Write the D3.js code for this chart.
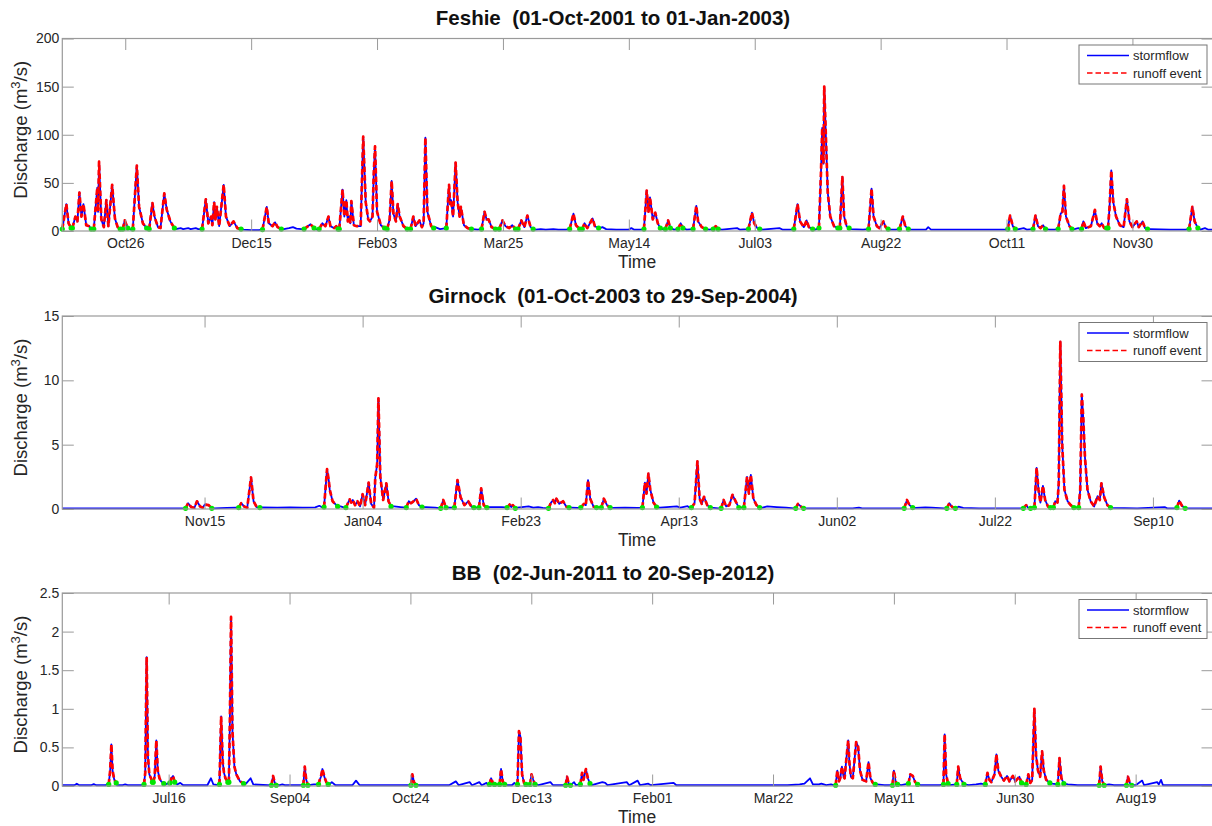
<!DOCTYPE html>
<html><head><meta charset="utf-8">
<script src="https://cdn.jsdelivr.net/npm/d3@7"></script>
<style>
body{margin:0;background:#fff}
svg{display:block}
text{font-family:"Liberation Sans",Arial,Helvetica,sans-serif}
</style>
</head><body>
<svg id="chart" width="1212" height="826"></svg>
<script>
// ---------------- DATA (day offsets from the panel start date, discharge m3/s) ----------------
const seriesNames = ["stormflow", "runoff event"];

// Feshie 01-Oct-2001 to 01-Jan-2003
const feshieXTicks = ["2001-10-26","2001-12-15","2002-02-03","2002-03-25","2002-05-14","2002-07-03","2002-08-22","2002-10-11","2002-11-30"];
const feshieYTicks = [0, 50, 100, 150, 200];
const feshieBase = [[0,1.5],[23.5,1.5],[27,1.5],[45,2],[47,3],[48,2],[50,3],[51,2],[53,3],[54,2],[72,1.5],[75,1],[78,1],[88,2],[90,3],[91.6,4],[93,2.5],[95,2],[100.5,2],[101.5,1.5],[128.5,2],[137.5,2],[148.1,4],[150,2],[163,2],[165,1.5],[172.5,1.5],[180.5,1.5],[188,1.5],[190,2],[192,1.5],[195,2],[197,1.5],[200,1.5],[213.5,3],[214.5,4],[216,2],[220,1.5],[225,1.5],[226,3],[227,1.5],[230,1.5],[238,2],[243,1.5],[248,1.5],[257,1.5],[262,1.5],[268,3],[269,1.5],[278,1.5],[284.8,3],[286,1.5],[290,1.5],[299,1.5],[313,2],[318,1.5],[329,1.5],[331,1.5],[337,1.5],[343,1.5],[343.9,4],[345,1.5],[360,1.5],[375,1.5],[379,1.5],[381.8,3],[383,1.5],[392,1.5],[394,1.5],[402,2],[403.5,3],[404.3,2],[432,2],[440,1.5],[446,1.5],[452,1.5],[453.8,3],[455,1.5],[457,1.5]];
const feshieEvents = [
 [[0,2],[0.8,15],[1.6,28],[2.5,8],[3.5,3]],
 [[4,3],[5.2,15],[6.0,10],[6.8,40],[7.6,15],[8.4,28],[9.5,6],[10.7,5],[11.5,2]],
 [[12.5,2],[13.9,45],[14.2,20],[14.6,72],[15.5,12],[16.5,4],[17.5,32],[18.3,5],[19.8,48],[20.9,13],[22,4],[23,2]],
 [[24,2],[24.8,11],[26,3]],
 [[28,2],[29.6,68],[30.5,25],[32,8],[33.5,3]],
 [[34.5,2],[35.8,29],[36.6,15],[38,4],[39,3],[40.5,39],[41.5,22],[42.9,10],[44.5,3]],
 [[55.5,2],[57,33],[58,8],[59.1,15],[59.6,6],[60.3,30],[60.8,12],[61.4,25],[62.3,5],[64.1,48],[65,15],[66.5,5],[68,10],[69.5,3],[71,2]],
 [[79.5,1.5],[81.2,25],[82,8],[83.5,5],[84.5,9],[85.5,4],[87,2]],
 [[96,2],[98.6,7],[100,3]],
 [[102,2],[103.3,8],[104.5,5],[105.7,15],[106.5,5],[108,3],[108.8,5],[109.5,2]],
 [[110,2],[111.3,43],[112,15],[112.8,32],[113.4,10],[113.9,15],[114.4,8],[114.8,31],[115.8,6],[117,5],[118.5,5],[119.5,98],[120.5,30],[121.5,12],[122.2,10],[123.2,15],[123.7,60],[124.2,88],[125,20],[126.5,6],[128,3]],
 [[129,2],[130,12],[130.8,52],[131.5,18],[132.5,10],[133.2,28],[134,15],[135.5,5],[137,2]],
 [[138.3,2],[139.4,15],[140.3,5],[141.8,11],[142.8,4],[143.5,8],[144.2,97],[145,20],[146.5,5],[147.5,3]],
 [[152.5,3],[153.6,48],[154,28],[154.4,32],[155.2,15],[156.2,71],[157,30],[157.8,15],[158.3,25],[159.5,6],[161,3],[162.5,2]],
 [[166.5,2],[167.7,20],[168.5,12],[169.3,12],[170.5,4],[172,2]],
 [[173.5,2],[174.8,11],[176,5],[177.5,3],[178.7,6],[180,2]],
 [[181,2],[182.3,11],[183.5,4],[184.7,16],[186,4],[187,2]],
 [[201.5,2],[203,18],[204,6],[205.5,2]],
 [[206.5,2],[207.4,8],[208.5,3],[210.6,13],[211.5,5],[213,3]],
 [[231,2],[232.1,42],[232.8,20],[233.4,35],[234.5,12],[235.5,19],[236.5,8],[237.5,3]],
 [[239.5,2],[240.6,11],[241.5,3]],
 [[244.5,2],[245.6,8],[246.5,3]],
 [[250.5,2],[251.8,26],[252.5,10],[254,4],[255.5,2]],
 [[258.5,2],[259.5,5],[260.5,2]],
 [[272.5,2],[273.9,19],[274.8,8],[276,3],[277,2]],
 [[290.5,2],[292,28],[293,10],[294.5,4],[295.6,11],[296.5,4],[298,2]],
 [[300.5,3],[301.3,60],[301.8,107],[302.3,70],[302.6,150],[303.3,95],[304,40],[305,15],[306.5,5],[308,3]],
 [[308.8,3],[309.8,56],[310.5,15],[311.5,5],[312.5,3]],
 [[320.2,2],[321.4,44],[322.2,15],[323.5,5],[324.5,3],[326.1,10],[327,4],[328,2]],
 [[332.5,2],[333.8,15],[334.8,5],[336,2]],
 [[375.5,2],[376.4,16],[377.5,5],[378.5,2]],
 [[385.5,2],[386.5,16],[387.5,5],[388.5,3],[389.5,6],[390.5,2]],
 [[395.5,2],[396.5,18],[397.2,20],[397.8,47],[398.6,15],[400,5],[401,2]],
 [[404.8,2],[405.5,10],[406.5,3],[408.5,5],[410.1,22],[411,8],[412,5],[412.8,8],[413.8,3],[414.8,3]],
 [[415.3,3],[415.9,24],[416.6,63],[417.4,30],[418.5,15],[420,6],[421.5,4],[422.8,33],[423.8,10],[425,4],[426.7,10],[427.5,4],[429,10],[430,3],[431,2]],
 [[447.5,2],[448.8,25],[449.7,10],[451,3]]
];

// Girnock 01-Oct-2003 to 29-Sep-2004
const girnockXTicks = ["2003-11-15","2004-01-04","2004-02-23","2004-04-13","2004-06-02","2004-07-22","2004-09-10"];
const girnockYTicks = [0, 5, 10, 15];
const girnockBase = [[0,0.05],[38.5,0.05],[48,0.05],[52,0.08],[55,0.1],[63,0.12],[68,0.1],[72,0.12],[76,0.1],[80,0.12],[81.3,0.25],[82.3,0.12],[88,0.2],[89,0.12],[105,0.2],[107,0.15],[115,0.15],[118,0.1],[122,0.1],[123,0.1],[135,0.15],[139,0.15],[140.2,0.12],[144,0.1],[147.5,0.2],[149,0.1],[150.5,0.15],[152,0.08],[161,0.1],[163,0.08],[174,0.08],[178,0.1],[182,0.08],[189,0.1],[194.4,0.2],[195.5,0.1],[197.8,0.22],[198.5,0.1],[206,0.08],[207.5,0.05],[221.5,0.1],[223,0.2],[226,0.15],[229,0.1],[231.5,0.05],[236,0.05],[245,0.05],[250,0.05],[252,0.1],[253,0.05],[265.5,0.05],[270,0.08],[273,0.12],[275,0.1],[279,0.05],[283.5,0.18],[285,0.08],[290,0.05],[303,0.05],[307,0.08],[313,0.1],[320.8,0.1],[332,0.08],[340,0.05],[348.7,0.15],[349.5,0.05],[352.2,0.05],[356,0.05],[364,0.05]];
const girnockEvents = [
 [[39,0.05],[39.8,0.45],[40.8,0.15],[41.8,0.1],[42.6,0.6],[43.6,0.2],[44.4,0.1],[45.1,0.35],[46.3,0.3],[47.3,0.05]],
 [[55.8,0.1],[56.6,0.45],[57.5,0.2],[58.5,0.1],[59.7,2.45],[60.5,0.6],[61.5,0.15],[62.5,0.1]],
 [[82.8,0.15],[83.75,3.1],[84.3,2.2],[84.6,1.5],[85.5,0.6],[87.1,0.2]],
 [[89.7,0.1],[90.9,0.75],[91.4,0.5],[91.9,0.7],[92.6,0.3],[93.4,0.6],[94.2,0.2],[95,1.15],[95.8,0.3],[96.9,2.05],[97.7,0.4],[98.6,0.1],[99,2.4],[99.6,3.5],[100,8.6],[100.6,2.5],[101.5,0.7],[102.5,2.0],[103.2,0.6],[104,0.2]],
 [[108.8,0.1],[109.6,0.6],[110.3,0.45],[110.9,0.55],[111.9,0.8],[112.8,0.3],[113.8,0.15]],
 [[119.7,0.05],[120.5,0.7],[121.4,0.1]],
 [[124,0.1],[125,2.25],[126,0.9],[127.2,0.3],[128.4,0.6],[129.4,0.2],[130.2,0.1]],
 [[131.8,0.1],[132.5,1.6],[133.3,0.3],[134.3,0.1]],
 [[140.7,0.1],[141.5,0.35],[142,0.15],[142.5,0.3],[143.3,0.05]],
 [[153.8,0.05],[154.6,0.5],[155.3,0.7],[155.8,0.45],[156.3,0.8],[157.2,0.4],[158.4,0.6],[159.4,0.2],[160.3,0.1]],
 [[164,0.1],[165,0.4],[165.6,0.3],[166.3,2.25],[167,0.8],[168,0.2],[169,0.1]],
 [[170.5,0.1],[171.3,0.8],[172.3,0.3],[173.3,0.1]],
 [[183.5,0.1],[184.3,2.05],[184.8,1.2],[185.4,2.75],[186,1.5],[187,0.5],[188,0.15]],
 [[199,0.1],[200,0.45],[200.9,3.7],[201.6,0.8],[202.3,0.4],[203,0.95],[204,0.3],[205,0.1]],
 [[208.4,0.05],[209.2,0.7],[210,0.2],[211,0.3],[212,1.1],[213,0.6],[214,0.1]],
 [[215.6,0.1],[216.6,2.5],[217.2,1.2],[217.8,2.65],[218.6,0.8],[219.6,0.3],[220.6,0.1]],
 [[232,0.05],[232.7,0.4],[233.6,0.2],[234.5,0.05]],
 [[266.3,0.05],[267.2,0.7],[268,0.3],[269,0.1]],
 [[279.8,0.05],[280.6,0.45],[281.5,0.15],[282.5,0.05]],
 [[304,0.05],[304.9,0.3],[305.5,0.1],[306.3,0.05]],
 [[307.5,0.1],[308.2,3.2],[308.8,1.5],[309.4,0.5],[310.2,1.8],[310.9,0.7],[311.8,0.2],[312.6,0.1]],
 [[313.5,0.1],[314.1,0.6],[314.8,0.5],[315.2,2],[315.7,13],[316.3,5],[317,1.5],[318,0.6],[319,0.3],[320,0.1]],
 [[321.5,0.1],[322,1.5],[322.5,8.9],[323,6.9],[323.5,4],[324.3,1.5],[325.3,0.6],[326.4,0.2],[327.5,1.0],[328.2,0.7],[328.7,2.0],[329.6,0.9],[330.6,0.3],[331.6,0.1]],
 [[352.6,0.1],[353.3,0.65],[354.2,0.25],[355.2,0.05]]
];

// BB 02-Jun-2011 to 20-Sep-2012
const bbXTicks = ["2011-07-16","2011-09-04","2011-10-24","2011-12-13","2012-02-01","2012-03-22","2012-05-11","2012-06-30","2012-08-19"];
const bbYTicks = [0, 0.5, 1, 1.5, 2, 2.5];
const bbBase = [[0,0.01],[5,0.01],[6,0.03],[7,0.01],[12,0.01],[13,0.025],[14,0.01],[18,0.01],[18.7,0.03],[22.6,0.01],[25,0.01],[26,0.02],[27,0.01],[33,0.01],[42.5,0.02],[47.5,0.02],[48.8,0.04],[50,0.01],[60,0.01],[61.5,0.1],[62.5,0.02],[64.5,0.01],[76,0.03],[77.9,0.1],[79,0.02],[85,0.01],[90,0.01],[91,0.02],[92,0.01],[98,0.01],[102,0.01],[104,0.02],[105,0.02],[110.5,0.02],[111.5,0.05],[113,0.01],[120,0.01],[121.5,0.07],[123,0.01],[143,0.01],[148,0.01],[155,0.01],[160,0.01],[162.8,0.06],[164,0.01],[168.5,0.05],[169.5,0.01],[172.5,0.05],[173.5,0.01],[175.5,0.04],[176.2,0.01],[184,0.01],[186,0.01],[187,0.04],[188,0.01],[197,0.01],[201.9,0.05],[203,0.01],[207,0.01],[211.7,0.05],[212.5,0.01],[219,0.01],[223.4,0.05],[224.6,0.04],[225.5,0.01],[233.5,0.05],[234.5,0.01],[238,0.07],[239,0.01],[242.4,0.03],[243.5,0.01],[252.9,0.04],[254,0.01],[260,0.01],[280,0.01],[300,0.01],[305,0.02],[307,0.03],[309.3,0.1],[310.5,0.02],[313,0.02],[314,0.03],[316,0.01],[318,0.02],[319,0.01],[337,0.02],[340,0.01],[347,0.01],[355,0.01],[358,0.01],[363,0.01],[367,0.01],[375,0.01],[378,0.02],[380,0.03],[397.5,0.03],[407.7,0.05],[409.5,0.03],[416,0.02],[420,0.01],[427,0.01],[433,0.02],[435,0.01],[444,0.01],[446.7,0.07],[447.5,0.01],[452.9,0.05],[453.6,0.02],[454.5,0.08],[455.3,0.01],[460,0.01],[470,0.01],[476,0.01]];
const bbEvents = [
 [[19.2,0.02],[19.8,0.2],[20.3,0.54],[20.8,0.2],[21.5,0.08],[22.3,0.04]],
 [[33.8,0.02],[34.3,0.17],[34.9,1.67],[35.4,0.4],[36,0.15],[36.7,0.1],[37.3,0.05]],
 [[37.6,0.05],[38.2,0.12],[38.9,0.59],[39.5,0.2],[40.2,0.1],[40.9,0.06],[42,0.03]],
 [[44.5,0.04],[45.1,0.1],[45.8,0.13],[46.5,0.05]],
 [[65,0.02],[65.7,0.9],[66.4,0.3],[66.9,0.17],[67.5,0.1],[68.5,0.05]],
 [[68.9,0.05],[69.3,0.8],[69.8,2.19],[70.4,0.7],[71.2,0.25],[72,0.15],[73.5,0.06],[75,0.03]],
 [[86.5,0.01],[87.2,0.13],[87.8,0.05],[88.5,0.01]],
 [[99.7,0.01],[100.3,0.25],[100.9,0.08],[101.6,0.01]],
 [[106,0.02],[106.5,0.08],[107,0.12],[107.6,0.22],[108.4,0.12],[109.2,0.05],[110,0.02]],
 [[144.2,0.01],[144.8,0.15],[145.5,0.05],[146.3,0.01]],
 [[176.7,0.02],[177.4,0.1],[178.1,0.04],[178.8,0.02]],
 [[180.9,0.02],[181.5,0.22],[182.2,0.06],[183,0.02]],
 [[188.3,0.02],[188.9,0.71],[189.5,0.64],[190.2,0.15],[191,0.04],[191.8,0.02]],
 [[193.5,0.02],[194.1,0.15],[194.8,0.08],[195.6,0.02]],
 [[208.2,0.01],[208.8,0.12],[209.5,0.03],[210.2,0.01]],
 [[214.3,0.02],[215,0.17],[215.6,0.08],[216.6,0.22],[217.4,0.1],[218.3,0.03]],
 [[319.9,0.01],[320.6,0.2],[321.3,0.06],[321.8,0.1],[322.5,0.25],[323.2,0.12],[323.6,0.1],[324.3,0.34],[325.1,0.59],[325.6,0.3],[326.2,0.12],[327,0.1],[327.6,0.3],[328.4,0.57],[329.2,0.51],[330,0.2],[331,0.08],[332.5,0.06],[333.5,0.31],[334.3,0.1],[335.3,0.04],[336.3,0.02]],
 [[343.4,0.01],[344,0.2],[344.7,0.06],[345.5,0.02]],
 [[350,0.03],[350.8,0.15],[351.8,0.13],[352.8,0.05],[353.8,0.02]],
 [[364.5,0.02],[365,0.67],[365.6,0.15],[366.4,0.03]],
 [[370,0.02],[370.6,0.25],[371.4,0.1],[372.2,0.06],[373,0.02]],
 [[381.8,0.02],[382.7,0.17],[383.5,0.08],[384.3,0.05],[385.6,0.15],[386.4,0.41],[387.2,0.2],[388.4,0.12],[389.5,0.07],[390.8,0.13],[391.8,0.06],[393.2,0.13],[394.2,0.06],[395.9,0.12],[396.8,0.04]],
 [[398.7,0.02],[399.6,0.15],[400.4,0.04],[401.2,0.08],[402.1,1.0],[402.8,0.4],[403.6,0.2],[404.5,0.12],[405.3,0.45],[406,0.2],[407,0.08],[408.5,0.04]],
 [[411.8,0.02],[412.5,0.36],[413.3,0.1],[414.3,0.03]],
 [[428.9,0.01],[429.5,0.25],[430.2,0.06],[431,0.01]],
 [[440.2,0.01],[440.8,0.12],[441.6,0.04],[442.4,0.01]]
];

// ---------------- PANELS ----------------
const panels = [
  {title:"Feshie  (01-Oct-2001 to 01-Jan-2003)", start:"2001-10-01", end:"2003-01-01", yMax:200, top:38.5, bottom:231,
   xTicks:feshieXTicks, yTicks:feshieYTicks, base:feshieBase, events:feshieEvents},
  {title:"Girnock  (01-Oct-2003 to 29-Sep-2004)", start:"2003-10-01", end:"2004-09-29", yMax:15, top:316, bottom:509,
   xTicks:girnockXTicks, yTicks:girnockYTicks, base:girnockBase, events:girnockEvents},
  {title:"BB  (02-Jun-2011 to 20-Sep-2012)", start:"2011-06-02", end:"2012-09-20", yMax:2.5, top:593, bottom:786,
   xTicks:bbXTicks, yTicks:bbYTicks, base:bbBase, events:bbEvents}
];

const L = 62.3, R = 1213;
const tickLen = 11.5;
const axisColor = "#9a9a9a";
const textColor = "#262626";
const parse = d3.utcParse("%Y-%m-%d");
const fmt = d3.utcFormat("%b%d");
const svg = d3.select("#chart");

panels.forEach(p => {
  const t0 = parse(p.start), t1 = parse(p.end);
  const toDate = d => new Date(t0.getTime() + d * 864e5);
  const x = d3.scaleUtc().domain([t0, t1]).range([L, R]);
  const y = d3.scaleLinear().domain([0, p.yMax]).range([p.bottom, p.top]);

  // stormflow = baseline knots outside events + event knots
  const inEvent = d => p.events.some(ev => d > ev[0][0] - 0.05 && d < ev[ev.length-1][0] + 0.05);
  const flow = p.base.filter(b => !inEvent(b[0])).concat(...p.events).sort((a, b) => a[0] - b[0]);

  const g = svg.append("g");

  g.append("rect").attr("x", L).attr("y", p.top).attr("width", R - L).attr("height", p.bottom - p.top).attr("fill", "#fff");

  const line = d3.line().x(d => x(toDate(d[0]))).y(d => y(d[1]));

  g.append("path").datum(flow).attr("d", line)
    .attr("fill", "none").attr("stroke", "#0000ff").attr("stroke-width", 1.8).attr("stroke-linejoin", "round");

  g.selectAll(".ev").data(p.events).join("path").attr("class", "ev").attr("d", line)
    .attr("fill", "none").attr("stroke", "#ff0000").attr("stroke-width", 2.7)
    .attr("stroke-dasharray", "5.5,3").attr("stroke-linejoin", "round");

  const marks = [];
  p.events.forEach(ev => { marks.push(ev[0]); marks.push(ev[ev.length-1]); });
  g.selectAll(".mk").data(marks).join("circle").attr("class", "mk")
    .attr("cx", d => x(toDate(d[0]))).attr("cy", d => y(d[1])).attr("r", 2.6).attr("fill", "#00e600");

  // axes
  const xt = p.xTicks.map(parse);
  const ax = g.append("g").attr("transform", `translate(0,${p.bottom})`)
    .call(d3.axisBottom(x).tickValues(xt).tickFormat(fmt).tickSize(-tickLen).tickPadding(7));
  const axT = g.append("g").attr("transform", `translate(0,${p.top})`)
    .call(d3.axisTop(x).tickValues(xt).tickFormat("").tickSize(-tickLen));
  const ay = g.append("g").attr("transform", `translate(${L},0)`)
    .call(d3.axisLeft(y).tickValues(p.yTicks).tickFormat(d => String(d)).tickSize(-tickLen).tickPadding(3));
  const ayR = g.append("g").attr("transform", `translate(${R},0)`)
    .call(d3.axisRight(y).tickValues(p.yTicks).tickFormat("").tickSize(-tickLen));
  [ax, axT, ay, ayR].forEach(a => {
    a.select(".domain").remove();
    a.selectAll(".tick line").attr("stroke", axisColor).attr("stroke-width", 1);
    a.selectAll(".tick text").attr("fill", textColor).style("font-size", "14px")
      .style("font-family", '"Liberation Sans", Arial, sans-serif');
  });
  g.append("rect").attr("x", L).attr("y", p.top).attr("width", R - L).attr("height", p.bottom - p.top)
    .attr("fill", "none").attr("stroke", axisColor).attr("stroke-width", 1.2);

  // legend
  const lg = g.append("g").attr("transform", `translate(1079,${p.top + 6.5})`);
  lg.append("rect").attr("width", 128).attr("height", 39).attr("fill", "#fff").attr("stroke", "#777").attr("stroke-width", 1);
  lg.append("line").attr("x1", 8).attr("x2", 50).attr("y1", 10.5).attr("y2", 10.5).attr("stroke", "#0000ff").attr("stroke-width", 1.4);
  lg.append("line").attr("x1", 8).attr("x2", 50).attr("y1", 28).attr("y2", 28).attr("stroke", "#ff0000").attr("stroke-width", 1.6).attr("stroke-dasharray", "5.5,3");
  lg.append("text").attr("x", 54).attr("y", 15).attr("fill", textColor).style("font-size", "13px").text(seriesNames[0]);
  lg.append("text").attr("x", 54).attr("y", 32.5).attr("fill", textColor).style("font-size", "13px").text(seriesNames[1]);

  // title
  svg.append("text").attr("x", 613).attr("y", p.top - 13.5).attr("text-anchor", "middle")
    .style("font-size", "20.5px").style("font-weight", "bold").style("white-space", "pre").attr("fill", "#111").text(p.title);

  // x label
  svg.append("text").attr("x", 637).attr("y", p.bottom + 37).attr("text-anchor", "middle")
    .style("font-size", "17.5px").attr("fill", textColor).text("Time");

  // y label
  const yl = svg.append("text").attr("transform", `translate(27,${(p.top + p.bottom) / 2 - 5}) rotate(-90)`)
    .attr("text-anchor", "middle").style("font-size", "18.5px").attr("fill", textColor);
  yl.append("tspan").text("Discharge (m");
  yl.append("tspan").attr("dy", -7.5).style("font-size", "13px").text("3");
  yl.append("tspan").attr("dy", 7.5).text("/s)");
});
</script>
</body></html>
